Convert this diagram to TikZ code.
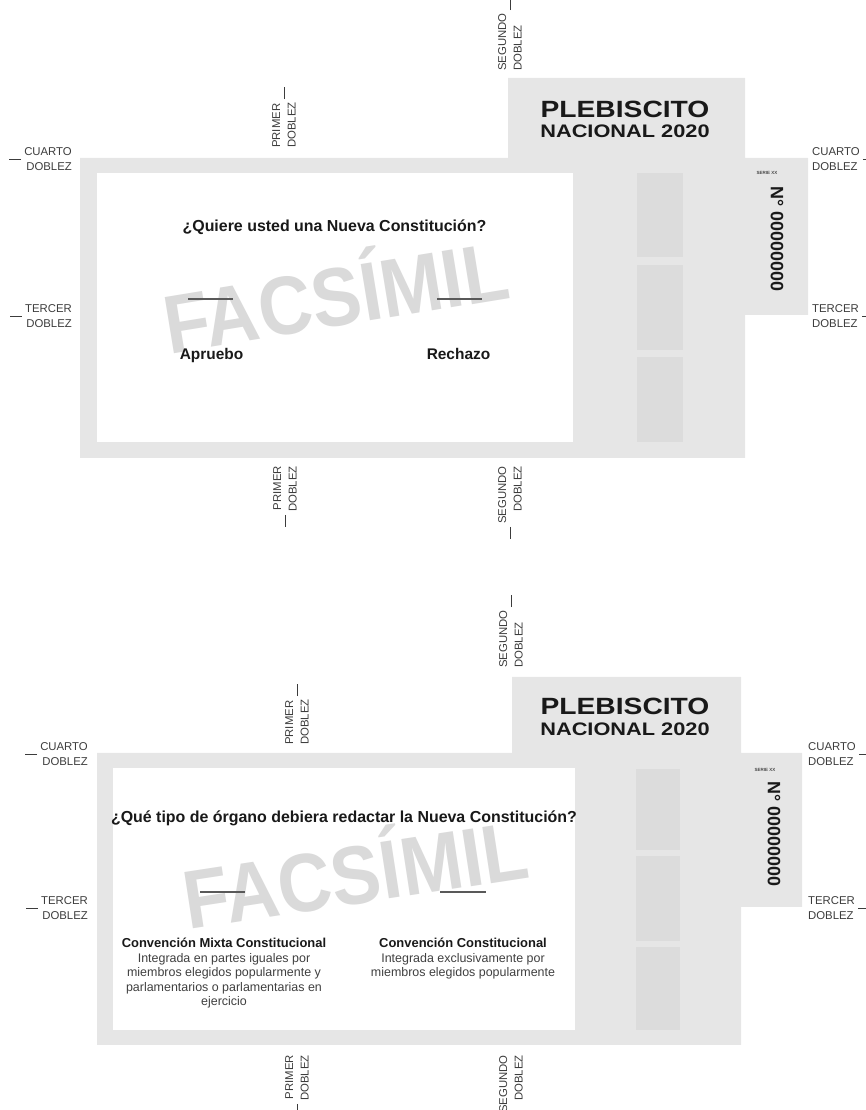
\documentclass[tikz,border=0pt]{standalone}
\usepackage{fontspec}
\setmainfont{Liberation Sans}
\newfontfamily\tabfont[FakeStretch=1.2]{Liberation Sans}
\newfontfamily\markfont[FakeStretch=0.9]{Liberation Sans}
\usetikzlibrary{positioning}
\definecolor{framegray}{RGB}{230,230,230}
\definecolor{stubgray}{RGB}{220,220,220}
\definecolor{markgray}{RGB}{218,218,218}
\definecolor{inkgray}{RGB}{60,60,60}
\tikzset{
  foldlbl/.style={inner sep=0pt, text=inkgray, font=\fontsize{11.4}{15.5}\selectfont},
  foldmark/.style={draw=inkgray, line width=0.6bp},
  titlelbl/.style={inner sep=0pt, text=black!90, font=\tabfont\bfseries\fontsize{23.6}{26}\selectfont},
  yearlbl/.style={inner sep=0pt, text=black!90, font=\tabfont\bfseries\fontsize{18.2}{20}\selectfont},
  questlbl/.style={inner sep=0pt, text=black!90, font=\bfseries\fontsize{16}{19}\selectfont},
  optlbl/.style={inner sep=0pt, text=black!90, font=\bfseries\fontsize{15.5}{18}\selectfont},
  headlbl/.style={inner sep=0pt, text=black!90, font=\bfseries\fontsize{13}{15}\selectfont},
  desclbl/.style={inner sep=0pt, align=center, text=black!75, font=\fontsize{12.5}{14.5}\selectfont},
  serielbl/.style={inner sep=0pt, font=\fontsize{4.5}{5}\selectfont},
  numlbl/.style={inner sep=0pt, rotate=-90, text=black!90, font=\bfseries\fontsize{18}{20}\selectfont},
  watermark/.style={inner sep=0pt, text=markgray, font=\markfont\bfseries\fontsize{83}{88}\selectfont},
  optline/.style={draw=black!65, line width=1.3bp},
}
\begin{document}
\begin{tikzpicture}[>=latex,line join=bevel]
  \useasboundingbox (0bp,0bp) rectangle (866bp,1110bp);
%% Ballot 1
  % Sheet: 1
  \fill [framegray] (80bp,652bp) -- (80bp,952bp) -- (508bp,952bp) -- (508bp,1032bp) -- (745bp,1032bp) -- (745bp,952bp) -- (808bp,952bp) -- (808bp,795bp) -- (745bp,795bp) -- (745bp,652bp) -- cycle;
  \fill [white] (97bp,668bp) rectangle (573bp,937bp);
  % Stubs: 1
  \fill [stubgray] (637bp,853bp) rectangle (683bp,937bp);
  \fill [stubgray] (637bp,760bp) rectangle (683bp,845bp);
  \fill [stubgray] (637bp,668bp) rectangle (683bp,753bp);
  \node [watermark,rotate=9.3,anchor=base] (wm1) at (340.5bp,784bp) {FACSÍMIL};
  % Node: title1
  \node [titlelbl,anchor=base] (title1) at (625bp,992bp) {PLEBISCITO};
  \node [yearlbl,anchor=base] (year1) at (625bp,972bp) {NACIONAL 2020};
  \node [serielbl] (serie1) at (767bp,937bp) {SERIE XX};
  \node [numlbl] (num1) at (777bp,871bp) {N° 00000000};
  % Node: question1
  \node [questlbl,anchor=base] (quest1) at (334.5bp,878bp) {¿Quiere usted una Nueva Constitución?};
  \draw [optline] (188bp,811bp) -- (233bp,811bp);
  \draw [optline] (437bp,811bp) -- (482bp,811bp);
  \node [optlbl,anchor=base] (apruebo) at (211.5bp,750bp) {Apruebo};
  \node [optlbl,anchor=base] (rechazo) at (458.5bp,750bp) {Rechazo};
  % Folds: 1
  \node [foldlbl,align=right,anchor=east] (cuartoL1) at (72bp,951bp) {CUARTO\\DOBLEZ};
  \draw [foldmark] (cuartoL1.west) ++(-3bp,0) -- ++(-12bp,0);
  \node [foldlbl,align=right,anchor=east] (tercerL1) at (72bp,794bp) {TERCER\\DOBLEZ};
  \draw [foldmark] (tercerL1.west) ++(-3bp,0) -- ++(-12bp,0);
  \node [foldlbl,align=left,anchor=west] (cuartoR1) at (812bp,951bp) {CUARTO\\DOBLEZ};
  \draw [foldmark] (cuartoR1.east) ++(3bp,0) -- ++(12bp,0);
  \node [foldlbl,align=left,anchor=west] (tercerR1) at (812bp,794bp) {TERCER\\DOBLEZ};
  \draw [foldmark] (tercerR1.east) ++(3bp,0) -- ++(12bp,0);
  \node [foldlbl,align=left,rotate=90,anchor=west] (primerT1) at (284bp,962bp) {PRIMER\\DOBLEZ};
  \draw [foldmark] (primerT1.east) ++(0,3bp) -- ++(0,12bp);
  \node [foldlbl,align=left,rotate=90,anchor=west] (segundoT1) at (510bp,1039bp) {SEGUNDO\\DOBLEZ};
  \draw [foldmark] (segundoT1.east) ++(0,3bp) -- ++(0,12bp);
  \node [foldlbl,align=right,rotate=90,anchor=east] (primerB1) at (285bp,644bp) {PRIMER\\DOBLEZ};
  \draw [foldmark] (primerB1.west) ++(0,-3bp) -- ++(0,-12bp);
  \node [foldlbl,align=right,rotate=90,anchor=east] (segundoB1) at (510bp,644bp) {SEGUNDO\\DOBLEZ};
  \draw [foldmark] (segundoB1.west) ++(0,-3bp) -- ++(0,-12bp);
%% Ballot 2
  % Sheet: 2
  \fill [framegray] (97bp,65bp) -- (97bp,357bp) -- (512bp,357bp) -- (512bp,433bp) -- (741bp,433bp) -- (741bp,357bp) -- (802bp,357bp) -- (802bp,203bp) -- (741bp,203bp) -- (741bp,65bp) -- cycle;
  \fill [white] (113bp,80bp) rectangle (575bp,342bp);
  % Stubs: 2
  \fill [stubgray] (636bp,260bp) rectangle (680bp,341bp);
  \fill [stubgray] (636bp,169bp) rectangle (680bp,254bp);
  \fill [stubgray] (636bp,80bp) rectangle (680bp,163bp);
  \node [watermark,rotate=8.7,anchor=base] (wm2) at (360bp,206.5bp) {FACSÍMIL};
  % Node: title2
  \node [titlelbl,anchor=base] (title2) at (625bp,395bp) {PLEBISCITO};
  \node [yearlbl,anchor=base] (year2) at (625bp,374bp) {NACIONAL 2020};
  \node [serielbl] (serie2) at (765bp,340bp) {SERIE XX};
  \node [numlbl] (num2) at (774bp,276bp) {N° 00000000};
  % Node: question2
  \node [questlbl,anchor=base] (quest2) at (344bp,287bp) {¿Qué tipo de órgano debiera redactar la Nueva Constitución?};
  \draw [optline] (200bp,218bp) -- (245bp,218bp);
  \draw [optline] (440bp,218bp) -- (486bp,218bp);
  \node [headlbl,anchor=base] (mixta) at (224bp,162bp) {Convención Mixta Constitucional};
  \node [desclbl,below=5bp of mixta] (mixtaD) {Integrada en partes iguales por\\miembros elegidos popularmente y\\parlamentarios o parlamentarias en\\ejercicio};
  \node [headlbl,anchor=base] (conv) at (463bp,162bp) {Convención Constitucional};
  \node [desclbl,below=5bp of conv] (convD) {Integrada exclusivamente por\\miembros elegidos popularmente};
  % Folds: 2
  \node [foldlbl,align=right,anchor=east] (cuartoL2) at (88bp,356bp) {CUARTO\\DOBLEZ};
  \draw [foldmark] (cuartoL2.west) ++(-3bp,0) -- ++(-12bp,0);
  \node [foldlbl,align=right,anchor=east] (tercerL2) at (88bp,202bp) {TERCER\\DOBLEZ};
  \draw [foldmark] (tercerL2.west) ++(-3bp,0) -- ++(-12bp,0);
  \node [foldlbl,align=left,anchor=west] (cuartoR2) at (808bp,356bp) {CUARTO\\DOBLEZ};
  \draw [foldmark] (cuartoR2.east) ++(3bp,0) -- ++(12bp,0);
  \node [foldlbl,align=left,anchor=west] (tercerR2) at (808bp,202bp) {TERCER\\DOBLEZ};
  \draw [foldmark] (tercerR2.east) ++(3bp,0) -- ++(12bp,0);
  \node [foldlbl,align=left,rotate=90,anchor=west] (primerT2) at (297bp,365bp) {PRIMER\\DOBLEZ};
  \draw [foldmark] (primerT2.east) ++(0,3bp) -- ++(0,12bp);
  \node [foldlbl,align=left,rotate=90,anchor=west] (segundoT2) at (511bp,442bp) {SEGUNDO\\DOBLEZ};
  \draw [foldmark] (segundoT2.east) ++(0,3bp) -- ++(0,12bp);
  \node [foldlbl,align=right,rotate=90,anchor=east] (primerB2) at (297bp,55bp) {PRIMER\\DOBLEZ};
  \draw [foldmark] (primerB2.west) ++(0,-3bp) -- ++(0,-12bp);
  \node [foldlbl,align=right,rotate=90,anchor=east] (segundoB2) at (511bp,55bp) {SEGUNDO\\DOBLEZ};
  \draw [foldmark] (segundoB2.west) ++(0,-3bp) -- ++(0,-12bp);
%
\end{tikzpicture}
\end{document}
